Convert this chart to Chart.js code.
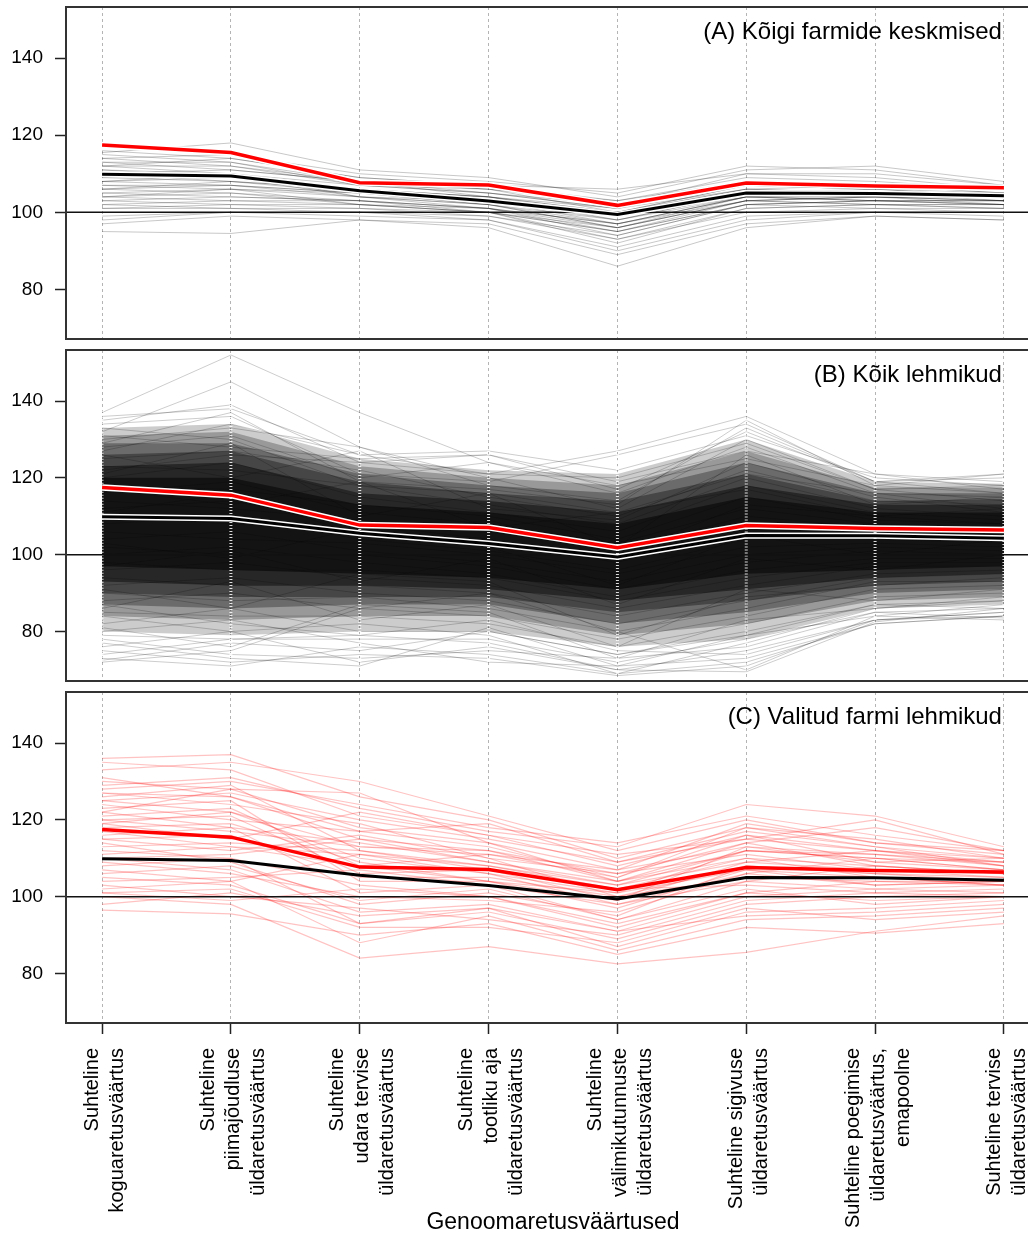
<!DOCTYPE html>
<html>
<head>
<meta charset="utf-8">
<script src="https://cdn.jsdelivr.net/npm/chart.js@4.4.1/dist/chart.umd.min.js"></script>
<style>
  html, body { margin: 0; padding: 0; background: #fff; overflow: hidden; }
  #wrap { position: relative; width: 1028px; height: 1237px; overflow: hidden; background: #fff; }
  canvas { position: absolute; left: 0; }
</style>
</head>
<body>
<div id="wrap">
  <canvas id="panelA" width="1040" height="345" style="top:0px;width:1040px;height:345px"></canvas>
  <canvas id="panelB" width="1040" height="340" style="top:345px;width:1040px;height:340px"></canvas>
  <canvas id="panelC" width="1040" height="552" style="top:685px;width:1040px;height:552px"></canvas>
</div>
<script>
// ---- labels ----
const CATEGORY_LABELS = [
  ['Suhteline', 'koguaretusväärtus'],
  ['Suhteline', 'piimajõudluse', 'üldaretusväärtus'],
  ['Suhteline', 'udara tervise', 'üldaretusväärtus'],
  ['Suhteline', 'tootliku aja', 'üldaretusväärtus'],
  ['Suhteline', 'välimikutunnuste', 'üldaretusväärtus'],
  ['Suhteline sigivuse', 'üldaretusväärtus'],
  ['Suhteline poegimise', 'üldaretusväärtus,', 'emapoolne'],
  ['Suhteline tervise', 'üldaretusväärtus']
];
const AXIS_TITLE = 'Genoomaretusväärtused';
const PANEL_TITLES = ['(A) Kõigi farmide keskmised', '(B) Kõik lehmikud', '(C) Valitud farmi lehmikud'];
const Y_TICKS = [80, 100, 120, 140];
const REFERENCE_LEVEL = 100;

// ---- summary lines ----
const overallMean      = [109.9, 109.4, 105.6, 102.9, 99.4, 105.0, 104.9, 104.3];
const selectedFarmMean = [117.5, 115.5, 107.7, 107.1, 101.8, 107.6, 106.8, 106.4];

// ---- (A) farm averages ----
const farmAverages = [
  [116, 114, 109, 107, 103, 108, 107, 106],
  [115, 113, 108, 106, 102, 107, 106, 106],
  [114, 112, 108, 105, 101, 106, 107, 105],
  [113, 113, 107, 106, 100, 107, 106, 105],
  [113, 111, 108, 104, 100, 106, 105, 105],
  [112, 110, 106, 104, 99, 105, 106, 104],
  [112, 112, 107, 105, 101, 108, 107, 106],
  [111, 110, 106, 103, 99, 105, 105, 104],
  [111, 109, 105, 104, 98, 104, 104, 104],
  [110, 109, 106, 103, 99, 104, 105, 103],
  [110, 108, 105, 102, 98, 105, 104, 104],
  [109, 110, 104, 103, 97, 103, 104, 103],
  [109, 108, 106, 104, 100, 106, 105, 105],
  [108, 107, 105, 102, 97, 104, 103, 103],
  [108, 109, 104, 102, 96, 103, 104, 102],
  [107, 106, 104, 101, 97, 104, 103, 103],
  [107, 107, 105, 103, 98, 105, 104, 104],
  [106, 105, 103, 101, 95, 102, 103, 102],
  [106, 107, 104, 102, 96, 104, 104, 103],
  [105, 104, 103, 100, 96, 103, 102, 102],
  [105, 106, 102, 101, 94, 102, 103, 102],
  [104, 103, 103, 101, 97, 104, 103, 103],
  [104, 105, 102, 100, 95, 103, 102, 101],
  [103, 102, 102, 100, 93, 101, 102, 101],
  [103, 104, 103, 101, 96, 103, 104, 103],
  [102, 101, 101, 99, 94, 102, 101, 101],
  [102, 103, 102, 100, 92, 101, 102, 102],
  [101, 101, 100, 99, 93, 100, 101, 100],
  [101, 102, 101, 100, 95, 102, 103, 102],
  [99, 100, 100, 98, 91, 99, 100, 100],
  [98, 100, 99, 98, 90, 98, 100, 99],
  [97, 99, 98, 97, 89, 97, 99, 98],
  [95, 94.5, 98, 96, 86, 96, 99, 98],
  [115.5, 118, 111, 109, 104, 111, 112, 108],
  [114, 115, 110, 108, 105, 112, 111, 107],
  [112, 114, 109, 107, 106, 110, 110, 107],
  [110, 111, 108, 106, 103, 109, 108, 106],
  [108, 110, 107, 105, 102, 110, 109, 106],
  [106, 108, 106, 104, 101, 108, 107, 105],
  [104, 106, 105, 103, 100, 107, 106, 104]
];

// ---- (B) all heifers: density layers, widest first (low / high edge per trait) ----
const cowsLayer1Low  = [80, 79, 80, 80, 76, 78, 86, 87];
const cowsLayer1High = [133, 134, 125, 122, 121, 130, 119, 118.5];
const cowsLayer2Low  = [84, 83, 84, 84, 79, 82, 88, 89];
const cowsLayer2High = [131, 132, 123, 120, 118, 127, 117.5, 117.5];
const cowsLayer3Low  = [87, 86, 87, 87, 82, 85, 90, 91];
const cowsLayer3High = [129, 129, 121, 118, 116, 124, 116, 116];
const cowsLayer4Low  = [90, 89, 89, 89, 85, 88, 92, 93];
const cowsLayer4High = [126, 127, 119, 116, 114, 121, 114, 114.5];
const cowsLayer5Low  = [93, 92, 92, 91, 88, 91, 94, 95];
const cowsLayer5High = [123, 124, 116, 114, 111, 118, 113, 113];
const cowsLayer6Low  = [97, 96, 95, 94, 91, 95, 96, 97];
const cowsLayer6High = [120, 120, 113, 111, 108, 115, 111, 111];
// full spread of the heifer profiles at each trait
const cowsRangeLow   = [72, 71, 72, 72, 69, 69, 82, 83.5];
const cowsRangeHigh  = [137.5, 139, 127, 127, 127, 136.5, 121.5, 121.5];

// ---- (B) individual heifer profiles ----
const allCows = [
  [137, 152, 137, 124, 118, 125, 118, 116],
  [132, 145, 128, 120, 112, 130, 117, 114],
  [135, 139, 124, 121, 127, 136, 121, 119],
  [130, 133, 128, 118, 114, 133, 119, 121],
  [128, 131, 120, 124, 116, 128, 116, 112],
  [125, 127, 122, 115, 110, 122, 114, 113],
  [123, 122, 118, 113, 108, 120, 112, 110],
  [120, 124, 115, 111, 106, 118, 111, 109],
  [118, 117, 113, 110, 104, 115, 109, 108],
  [116, 119, 111, 108, 103, 112, 108, 107],
  [114, 112, 109, 106, 101, 110, 107, 106],
  [112, 114, 108, 104, 99, 108, 106, 105],
  [110, 108, 106, 103, 98, 106, 105, 104],
  [108, 110, 104, 101, 96, 104, 104, 103],
  [106, 104, 103, 100, 95, 102, 103, 102],
  [104, 106, 101, 98, 93, 100, 102, 101],
  [102, 100, 100, 97, 91, 98, 101, 100],
  [100, 102, 98, 95, 89, 96, 99, 99],
  [98, 96, 96, 94, 88, 94, 98, 98],
  [96, 98, 94, 92, 86, 92, 97, 97],
  [94, 92, 92, 90, 84, 90, 95, 96],
  [92, 94, 90, 88, 82, 88, 94, 95],
  [90, 88, 89, 86, 80, 86, 93, 93],
  [88, 90, 86, 84, 78, 84, 91, 92],
  [85, 84, 84, 82, 76, 82, 89, 90],
  [82, 86, 80, 80, 74, 80, 87, 88],
  [79, 78, 78, 78, 72, 78, 85, 86],
  [76, 80, 72, 76, 70, 75, 83, 85],
  [73, 71, 76, 74, 69, 72, 82, 84],
  [72, 75, 86, 90, 80, 70, 84, 83],
  [126, 120, 127, 112, 109, 124, 115, 111],
  [121, 129, 110, 116, 102, 126, 113, 115],
  [117, 113, 119, 107, 111, 117, 110, 112],
  [111, 116, 105, 109, 100, 113, 110, 108],
  [103, 99, 107, 102, 92, 105, 100, 104],
  [97, 101, 93, 99, 87, 99, 96, 100],
  [91, 86, 95, 93, 79, 89, 92, 94],
  [86, 93, 83, 87, 76, 91, 88, 91],
  [81, 76, 87, 85, 73, 83, 86, 89],
  [77, 73, 71, 81, 71, 79, 84, 87],
  [136, 138, 126, 127, 122, 131, 120, 118],
  [134, 136, 121, 119, 126, 134, 119, 120],
  [131, 128, 125, 126, 119, 127, 121, 117],
  [129, 137, 119, 117, 113, 135, 118, 121],
  [127, 134, 126, 121, 120, 129, 117, 118],
  [133, 130, 118, 116, 111, 121, 116, 115],
  [75, 72, 74, 73, 68.5, 71, 83, 84],
  [74, 78, 79, 77, 70, 69.5, 82.5, 86],
  [78, 74, 73, 75, 73, 76, 85, 83.5],
  [80, 83, 77, 72, 71, 73, 82, 84],
  [84, 80, 82, 79, 69, 77, 86, 88],
  [72.5, 77, 75, 80, 74, 79, 87, 86],
  [87, 82, 79, 83, 75, 74, 83, 85],
  [122, 126, 124, 126, 117, 132, 119, 116]
];

// ---- (C) heifers of the selected farm ----
const selectedFarmCows = [
  [136, 137, 126, 120, 110, 118, 115, 110],
  [135, 133, 121, 116, 108, 116, 112, 108],
  [133, 135, 130, 121, 112, 120, 114, 111],
  [130, 128, 118, 114, 104, 112, 110, 107],
  [129, 131, 123, 117, 113, 124, 121, 113],
  [127, 126, 115, 112, 106, 114, 118, 112],
  [127, 124, 119, 110, 100, 108, 106, 104],
  [126, 129, 112, 108, 102, 110, 108, 106],
  [125, 127, 120, 115, 109, 117, 113, 110],
  [125, 122, 110, 106, 98, 106, 110, 109],
  [124, 120, 117, 113, 105, 116, 109, 107],
  [123, 125, 104, 104, 101, 112, 111, 108],
  [122, 118, 114, 109, 103, 109, 107, 105],
  [121, 123, 108, 111, 107, 119, 114, 112],
  [120, 117, 113, 112, 104, 110, 105, 103],
  [120, 121, 106, 107, 99, 113, 109, 110],
  [119, 115, 122, 116, 111, 115, 112, 109],
  [118, 119, 109, 104, 97, 107, 103, 104],
  [117, 113, 111, 108, 103, 112, 110, 107],
  [116, 118, 101, 103, 94, 104, 108, 106],
  [115, 112, 116, 110, 106, 111, 107, 106],
  [115, 116, 105, 105, 100, 105, 104, 103],
  [114, 109, 98, 101, 95, 108, 106, 105],
  [113, 114, 112, 107, 102, 103, 101, 102],
  [112, 110, 103, 100, 92, 101, 104, 104],
  [111, 113, 108, 104, 99, 109, 112, 110],
  [110, 107, 96, 98, 91, 100, 102, 101],
  [110, 111, 115, 109, 104, 114, 108, 106],
  [109, 106, 100, 99, 96, 106, 103, 104],
  [108, 110, 93, 96, 89, 98, 100, 101],
  [107, 104, 111, 106, 101, 107, 105, 103],
  [106, 108, 99, 102, 94, 102, 98, 100],
  [105, 103, 93, 97, 87, 96, 97, 99],
  [104, 105, 107, 103, 98, 104, 102, 103],
  [103, 100, 97, 94, 90, 99, 101, 100],
  [102, 104, 88, 95, 86, 94, 95, 97],
  [101, 99, 102, 100, 93, 101, 99, 100],
  [101, 102, 92, 92, 88, 97, 94, 96],
  [100, 98, 84, 87, 82.5, 85.5, 91, 95],
  [98, 101, 95, 97, 91, 95, 96, 98],
  [96.5, 95.5, 90, 93, 85, 92, 90.5, 93],
  [128, 130, 124, 118, 114, 121, 116, 112],
  [131, 126, 117, 119, 109, 115, 120, 111],
  [122, 128, 127, 114, 107, 113, 111, 109],
  [119, 122, 113, 111, 105, 118, 113, 108]
];

// ---- drawing ----
const FONT = '"Liberation Sans", Arial, Helvetica, sans-serif';
const Y_MIN = 67.1, Y_MAX = 153.3;
const X_MIN = -0.28, X_MAX = CATEGORY_LABELS.length - 1 + 0.28;
const LABEL_LINE_HEIGHT = 25;

const toPoints = vals => vals.map((v, i) => ({ x: i, y: v }));

const panelDeco = {
  id: 'panelDeco',
  afterDatasetDraw(chart, args, opts) {
    const ds = chart.data.datasets[args.index];
    if (!ds.lastBackground) return;
    const { ctx, chartArea: a, scales: { x, y } } = chart;
    ctx.save();
    if (opts.stripes) {
      // light stitching where the many profiles meet each trait axis
      ctx.strokeStyle = 'rgba(255,255,255,0.85)';
      ctx.lineWidth = 3;
      ctx.setLineDash([1, 2]);
      opts.stripes.high.forEach((hi, i) => {
        const px = x.getPixelForValue(i);
        ctx.beginPath();
        ctx.moveTo(px, y.getPixelForValue(hi));
        ctx.lineTo(px, y.getPixelForValue(opts.stripes.low[i]));
        ctx.stroke();
      });
      ctx.setLineDash([]);
    }
    const y0 = y.getPixelForValue(REFERENCE_LEVEL);
    ctx.strokeStyle = '#111';
    ctx.lineWidth = 1.5;
    ctx.beginPath();
    ctx.moveTo(a.left, y0);
    ctx.lineTo(a.right, y0);
    ctx.stroke();
    ctx.restore();
  },
  afterDraw(chart, args, opts) {
    const { ctx, chartArea: a, scales: { x } } = chart;
    ctx.save();
    ctx.strokeStyle = '#333';
    ctx.lineWidth = 2;
    ctx.strokeRect(a.left, a.top, a.right - a.left, a.bottom - a.top);

    ctx.fillStyle = '#000';
    ctx.font = '24px ' + FONT;
    ctx.textAlign = 'right';
    ctx.textBaseline = 'middle';
    ctx.fillText(opts.title, x.getPixelForValue(CATEGORY_LABELS.length - 1) - 2, a.top + 25);

    if (opts.categoryLabels) {
      ctx.font = '20px ' + FONT;
      CATEGORY_LABELS.forEach((lines, i) => {
        const px = x.getPixelForValue(i);
        const n = lines.length;
        lines.forEach((t, k) => {
          ctx.save();
          ctx.translate(px + 3 + (k - (n - 1) / 2) * LABEL_LINE_HEIGHT, a.bottom + 25);
          ctx.rotate(-Math.PI / 2);
          ctx.textAlign = 'right';
          ctx.fillText(t, 0, 0);
          ctx.restore();
        });
      });
    }
    ctx.restore();
  }
};

function meanLines(outlined) {
  const out = [];
  if (outlined) {
    out.push({ data: toPoints(overallMean), borderColor: '#fff', borderWidth: 6 });
    out.push({ data: toPoints(selectedFarmMean), borderColor: '#fff', borderWidth: 6.5 });
  }
  out.push({ data: toPoints(overallMean), borderColor: '#000', borderWidth: 3 });
  out.push({ data: toPoints(selectedFarmMean), borderColor: '#ff0000', borderWidth: 3.5 });
  return out;
}

function makePanel(id, bgSets, opts) {
  const datasets = bgSets.concat(meanLines(opts.outlined)).map(d => Object.assign({
    pointRadius: 0, tension: 0, fill: false, borderCapStyle: 'butt'
  }, d));
  datasets.forEach((d, i) => { d.order = datasets.length - i; });

  return new Chart(document.getElementById(id), {
    type: 'line',
    data: { datasets },
    plugins: [panelDeco],
    options: {
      responsive: false,
      animation: false,
      devicePixelRatio: 1,
      events: [],
      layout: { padding: { top: opts.padTop, bottom: opts.padBottom, left: 0, right: 0 } },
      plugins: {
        legend: { display: false },
        tooltip: { enabled: false },
        panelDeco: { title: opts.title, stripes: opts.stripes || null, categoryLabels: !!opts.xLabels }
      },
      scales: {
        x: {
          type: 'linear', min: X_MIN, max: X_MAX,
          afterBuildTicks: s => { s.ticks = CATEGORY_LABELS.map((_, i) => ({ value: i })); },
          afterFit: s => { s.height = opts.xHeight; s.paddingLeft = 0; s.paddingRight = 0; },
          ticks: { display: false },
          grid: {
            color: '#b4b4b4', lineWidth: 1, drawTicks: !!opts.xLabels, tickLength: 11,
            tickColor: '#222', tickWidth: 1.5, tickBorderDash: [1, 0]
          },
          border: { display: false, dash: [3, 3] },
          title: opts.xLabels ? {
            display: true, text: AXIS_TITLE, color: '#000',
            font: { size: 23, family: FONT, lineHeight: 1.2 }, padding: { top: 0, bottom: 1 }
          } : { display: false }
        },
        y: {
          type: 'linear', min: Y_MIN, max: Y_MAX,
          afterBuildTicks: s => { s.ticks = Y_TICKS.map(v => ({ value: v })); },
          afterFit: s => { s.width = 66; s.paddingTop = 0; s.paddingBottom = 0; },
          ticks: { font: { size: 19, family: FONT }, color: '#000', padding: 12 },
          grid: { drawOnChartArea: false, drawTicks: true, tickLength: 11, tickColor: '#222', tickWidth: 1.5 },
          border: { display: false }
        }
      }
    }
  });
}

// (A) farm averages
const setsA = farmAverages.map(v => ({ data: toPoints(v), borderColor: 'rgba(0,0,0,0.22)', borderWidth: 1 }));
setsA[setsA.length - 1].lastBackground = true;
makePanel('panelA', setsA, { title: PANEL_TITLES[0], outlined: true, padTop: 7, padBottom: 6, xHeight: 0 });

// (B) all heifers
const layer = (lo, hi, alpha) => [
  { data: toPoints(lo), borderWidth: 0, borderColor: 'rgba(0,0,0,0)' },
  { data: toPoints(hi), borderWidth: 0, borderColor: 'rgba(0,0,0,0)', fill: '-1', backgroundColor: 'rgba(0,0,0,' + alpha + ')' }
];
const setsB = [].concat(
  layer(cowsLayer1Low, cowsLayer1High, 0.2),
  layer(cowsLayer2Low, cowsLayer2High, 0.25),
  layer(cowsLayer3Low, cowsLayer3High, 0.3),
  layer(cowsLayer4Low, cowsLayer4High, 0.35),
  layer(cowsLayer5Low, cowsLayer5High, 0.45),
  layer(cowsLayer6Low, cowsLayer6High, 0.5),
  allCows.map(v => ({ data: toPoints(v), borderColor: 'rgba(0,0,0,0.2)', borderWidth: 1 }))
);
setsB[setsB.length - 1].lastBackground = true;
makePanel('panelB', setsB, {
  title: PANEL_TITLES[1], outlined: true, padTop: 5, padBottom: 4, xHeight: 0,
  stripes: { low: cowsRangeLow, high: cowsRangeHigh }
});

// (C) selected farm
const setsC = selectedFarmCows.map(v => ({ data: toPoints(v), borderColor: 'rgba(255,0,0,0.24)', borderWidth: 1.2 }));
setsC[setsC.length - 1].lastBackground = true;
makePanel('panelC', setsC, { title: PANEL_TITLES[2], outlined: false, padTop: 7, padBottom: 0, xHeight: 214, xLabels: true });
</script>
</body>
</html>
